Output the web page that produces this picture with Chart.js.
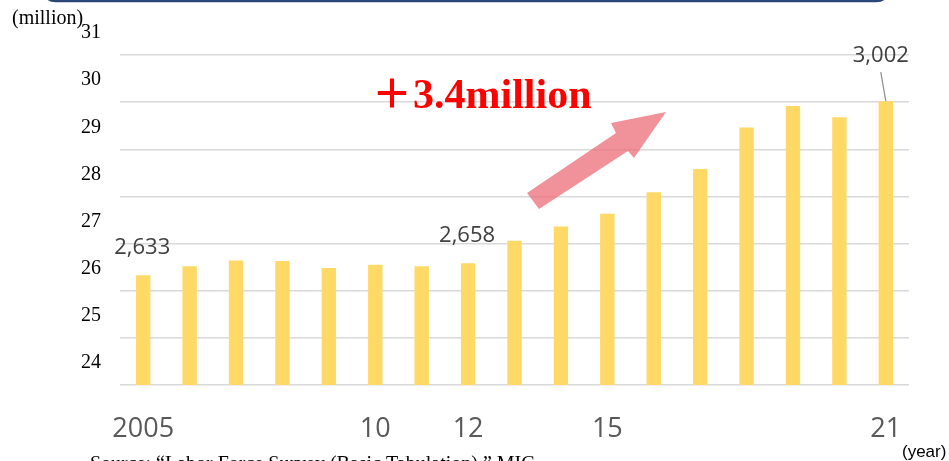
<!DOCTYPE html>
<html>
<head>
<meta charset="utf-8">
<script src="https://cdn.jsdelivr.net/npm/chart.js@4"></script>
<style>
  html, body { margin: 0; padding: 0; background: #fff; }
  canvas { display: block; }
</style>
</head>
<body>
<canvas id="grafico" width="949" height="461"></canvas>
<script>
// dados (milhões de pessoas)
const anos = ['2005', '2006', '2007', '2008', '2009', '2010', '2011', '2012', '2013',
  '2014', '2015', '2016', '2017', '2018', '2019', '2020', '2021'];
const rotulosX = ['2005', '', '', '', '', '10', '', '12', '', '', '15', '', '', '', '', '', '21'];
const valores = [26.33, 26.52, 26.64, 26.63, 26.48, 26.55, 26.52, 26.58, 27.06,
  27.36, 27.63, 28.09, 28.58, 29.46, 29.92, 29.68, 30.02];
const ticksY = [24, 25, 26, 27, 28, 29, 30, 31];
// rótulos de valor: índice da barra -> texto
const destaques = [
  { idx: 0, texto: '2,633' },
  { idx: 7, texto: '2,658' },
  { idx: 16, texto: '3,002' }
];

const decoracao = {
  id: 'decoracao',
  beforeDraw(chart) {
    const c = chart.ctx;
    c.save();
    c.fillStyle = '#fff';
    c.fillRect(0, 0, chart.width, chart.height);
    // linha azul do quadro de cima
    c.strokeStyle = '#2B4779';
    c.lineWidth = 2.5;
    c.beginPath();
    c.moveTo(46, -4);
    c.quadraticCurveTo(48, 1, 56, 1);
    c.lineTo(876, 1);
    c.quadraticCurveTo(884, 1, 886, -4);
    c.stroke();
    c.restore();
  },
  afterDatasetsDraw(chart) {
    const c = chart.ctx;
    const x = chart.scales.x, y = chart.scales.y;
    c.save();

    // seta rosa
    c.fillStyle = 'rgba(236, 110, 120, 0.75)';
    c.beginPath();
    c.moveTo(527, 193);
    c.lineTo(616, 133);
    c.lineTo(611, 123);
    c.lineTo(666, 112);
    c.lineTo(634, 158);
    c.lineTo(628, 151);
    c.lineTo(539, 209);
    c.closePath();
    c.fill();

    // rótulos de valor
    c.font = '22px "Open Sans", "Liberation Sans", sans-serif';
    c.fillStyle = '#404040';
    c.textAlign = 'center';
    c.textBaseline = 'alphabetic';
    destaques.forEach(d => {
      const px = x.getPixelForValue(d.idx);
      const py = y.getPixelForValue(valores[d.idx]);
      if (d.idx === anos.length - 1) {
        c.fillText(d.texto, px - 5, py - 39);
        c.strokeStyle = '#8c8c8c';
        c.lineWidth = 1.2;
        c.beginPath();
        c.moveTo(px - 5, py - 29);
        c.lineTo(px, py);
        c.stroke();
      } else {
        c.fillText(d.texto, px - 1, py - 21);
      }
    });

    // +3.4million
    c.fillStyle = '#FF0000';
    c.textAlign = 'left';
    c.font = 'bold 40px "Noto Sans CJK JP"';
    c.fillText('＋', 372, 108);
    c.font = 'bold 42px "Liberation Serif", "Times New Roman", serif';
    c.fillText('3.4million', 413, 108);

    // textos soltos
    c.fillStyle = '#000';
    c.font = '20px "Liberation Serif", "Times New Roman", serif';
    c.fillText('(million)', 12, 24);
    c.fillText('Source: \u201CLabor Force Survey (Basic Tabulation),\u201D MIC', 90, 470);
    c.font = '17px "Liberation Sans", Arial, sans-serif';
    c.fillText('(year)', 902, 457);
    c.restore();
  }
};

new Chart(document.getElementById('grafico'), {
  type: 'bar',
  data: {
    labels: rotulosX,
    datasets: [{
      label: 'Employed',
      data: valores,
      backgroundColor: '#FFD966',
      barPercentage: 0.62,
      categoryPercentage: 0.5
    }]
  },
  options: {
    responsive: false,
    animation: false,
    layout: { padding: { top: 55, right: 40, left: 0, bottom: 0 } },
    plugins: { legend: { display: false }, tooltip: { enabled: false } },
    scales: {
      x: {
        grid: { display: false, drawTicks: false },
        border: { display: false },
        ticks: {
          autoSkip: false, maxRotation: 0, padding: 28,
          color: '#595959',
          font: { family: '"Open Sans", "Liberation Sans", sans-serif', size: 27 }
        },
        afterFit(s) { s.height = 76; }
      },
      y: {
        min: ticksY[0],
        max: ticksY[ticksY.length - 1],
        afterBuildTicks(s) { s.ticks = ticksY.map(v => ({ value: v })); },
        grid: { color: '#D9D9D9', lineWidth: 1.5, drawTicks: false },
        border: { display: false },
        ticks: {
          stepSize: 1, padding: 19, labelOffset: -22,
          color: '#000',
          font: { family: '"Liberation Serif", "Times New Roman", serif', size: 20 }
        },
        afterFit(s) { s.width = 120; }
      }
    }
  },
  plugins: [decoracao]
});
</script>
</body>
</html>
